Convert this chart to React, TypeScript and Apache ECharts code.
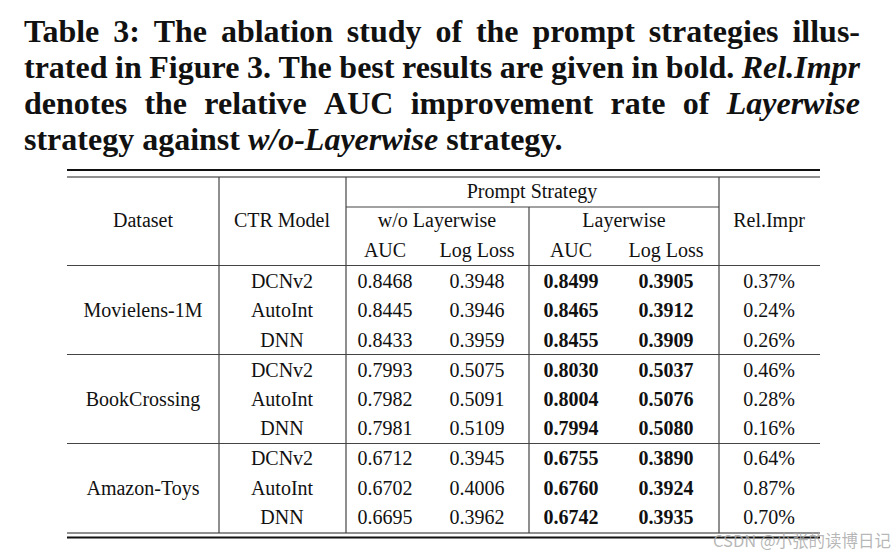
import React, { useEffect, useRef } from "react";
import * as echarts from "echarts";

const titleLines: { text: string; italic: boolean }[][] = [
  [{ text: "Table 3: The ablation study of the prompt strategies illus-", italic: false }],
  [
    { text: "trated in Figure 3. The best results are given in bold.", italic: false },
    { text: "Rel.Impr", italic: true },
  ],
  [
    { text: "denotes the relative AUC improvement rate of", italic: false },
    { text: "Layerwise", italic: true },
  ],
  [
    { text: "strategy against", italic: false },
    { text: "w/o-Layerwise", italic: true },
    { text: "strategy.", italic: false },
  ],
];

const datasets = ["Movielens-1M", "BookCrossing", "Amazon-Toys"];
const models = ["DCNv2", "AutoInt", "DNN"];
const aucWo = ["0.8468", "0.8445", "0.8433", "0.7993", "0.7982", "0.7981", "0.6712", "0.6702", "0.6695"];
const llWo = ["0.3948", "0.3946", "0.3959", "0.5075", "0.5091", "0.5109", "0.3945", "0.4006", "0.3962"];
const aucL = ["0.8499", "0.8465", "0.8455", "0.8030", "0.8004", "0.7994", "0.6755", "0.6760", "0.6742"];
const llL = ["0.3905", "0.3912", "0.3909", "0.5037", "0.5076", "0.5080", "0.3890", "0.3924", "0.3935"];
const relImpr = ["0.37%", "0.24%", "0.26%", "0.46%", "0.28%", "0.16%", "0.64%", "0.87%", "0.70%"];

const headerTop = "Prompt Strategy";
const headerMid = ["w/o Layerwise", "Layerwise"];
const headerSub = ["AUC", "Log Loss", "AUC", "Log Loss"];
const headerSide = ["Dataset", "CTR Model", "Rel.Impr"];
const watermark = "CSDN @小张的读博日记";

const SERIF = "'Liberation Serif', 'DejaVu Serif', serif";

function measure(text: string, font: string): number {
  const c = document.createElement("canvas").getContext("2d");
  if (!c) return text.length * 12;
  c.font = font;
  return c.measureText(text).width;
}

export default function App() {
  const ref = useRef<HTMLDivElement>(null);
  useEffect(() => {
    if (!ref.current) return;
    const chart = echarts.init(ref.current, null, { renderer: "svg" });
    const els: any[] = [];

    // Title (justified lines)
    const tSize = 32;
    const tLeft = 24;
    const tRight = 860;
    const tY = [31, 67, 103, 139];
    titleLines.forEach((line, li) => {
      const words: { w: string; italic: boolean }[] = [];
      line.forEach((seg) => seg.text.split(" ").forEach((w) => words.push({ w, italic: seg.italic })));
      const fonts = words.map((o) => `${o.italic ? "italic " : ""}bold ${tSize}px ${SERIF}`);
      const widths = words.map((o, i) => measure(o.w, fonts[i]));
      const sum = widths.reduce((a, b) => a + b, 0);
      const justify = li < titleLines.length - 1;
      const spaceW = measure(" ", `bold ${tSize}px ${SERIF}`);
      const gap = justify ? (tRight - tLeft - sum) / (words.length - 1) : spaceW;
      let x = tLeft;
      words.forEach((o, i) => {
        els.push({
          type: "text",
          x,
          y: tY[li],
          style: {
            text: o.w,
            font: fonts[i],
            fill: "#111",
            textVerticalAlign: "middle",
            verticalAlign: "middle",
          },
        });
        x += widths[i] + gap;
      });
    });

    // Table geometry
    const L = 67, R = 820;
    const vx = [219, 346, 529, 719];
    const lineColor = "#444";
    const hline = (x1: number, x2: number, y: number, w: number, color = lineColor) =>
      els.push({ type: "line", shape: { x1, y1: y, x2, y2: y }, style: { stroke: color, lineWidth: w } });
    const vline = (x: number, y1: number, y2: number) =>
      els.push({ type: "line", shape: { x1: x, y1, x2: x, y2 }, style: { stroke: lineColor, lineWidth: 1.2 } });

    hline(L, R, 170, 2.2, "#111");
    hline(L, R, 177, 1.2, "#222");
    hline(vx[1], vx[3], 207, 1.2);
    hline(L, R, 265.5, 1.2);
    hline(L, R, 354.5, 1.2);
    hline(L, R, 443.5, 1.2);
    hline(L, R, 533, 1.2, "#222");
    hline(L, R, 537.5, 2.2, "#111");
    vline(vx[0], 177, 533);
    vline(vx[1], 177, 533);
    vline(vx[2], 207, 533);
    vline(vx[3], 177, 533);

    const fs = 20;
    const txt = (s: string, x: number, y: number, bold = false) =>
      els.push({
        type: "text",
        x,
        y,
        style: {
          text: s,
          font: `${bold ? "bold " : ""}${fs}px ${SERIF}`,
          fill: "#111",
          textAlign: "center",
          align: "center",
          textVerticalAlign: "middle",
          verticalAlign: "middle",
        },
      });

    const colX = [143, 282, 385, 477, 571, 666, 769];
    // Header
    txt(headerTop, 532, 191);
    txt(headerMid[0], 437, 220);
    txt(headerMid[1], 624, 220);
    headerSub.forEach((s, i) => txt(s, colX[2 + i], 250));
    txt(headerSide[0], colX[0], 220);
    txt(headerSide[1], colX[1], 220);
    txt(headerSide[2], colX[6], 220);

    // Body
    const rowY = [281, 310, 339.5, 369.5, 398.5, 428, 458, 487.5, 517];
    datasets.forEach((d, gi) => txt(d, colX[0], rowY[gi * 3 + 1]));
    rowY.forEach((y, i) => {
      txt(models[i % 3], colX[1], y);
      txt(aucWo[i], colX[2], y);
      txt(llWo[i], colX[3], y);
      txt(aucL[i], colX[4], y, true);
      txt(llL[i], colX[5], y, true);
      txt(relImpr[i], colX[6], y);
    });

    // Watermark
    els.push({
      type: "text",
      x: 891,
      y: 539.5,
      style: {
        text: watermark,
        font: `16.5px 'Noto Sans CJK SC', sans-serif`,
        fill: "rgba(170,170,170,0.85)",
        textAlign: "right",
        align: "right",
        textVerticalAlign: "middle",
        verticalAlign: "middle",
      },
    });

    chart.setOption({ animation: false, backgroundColor: "#fff", graphic: { elements: els } });
    return () => chart.dispose();
  }, []);
  return <div ref={ref} style={{ width: 894, height: 550, position: "absolute", left: 0, top: 0 }} />;
}
